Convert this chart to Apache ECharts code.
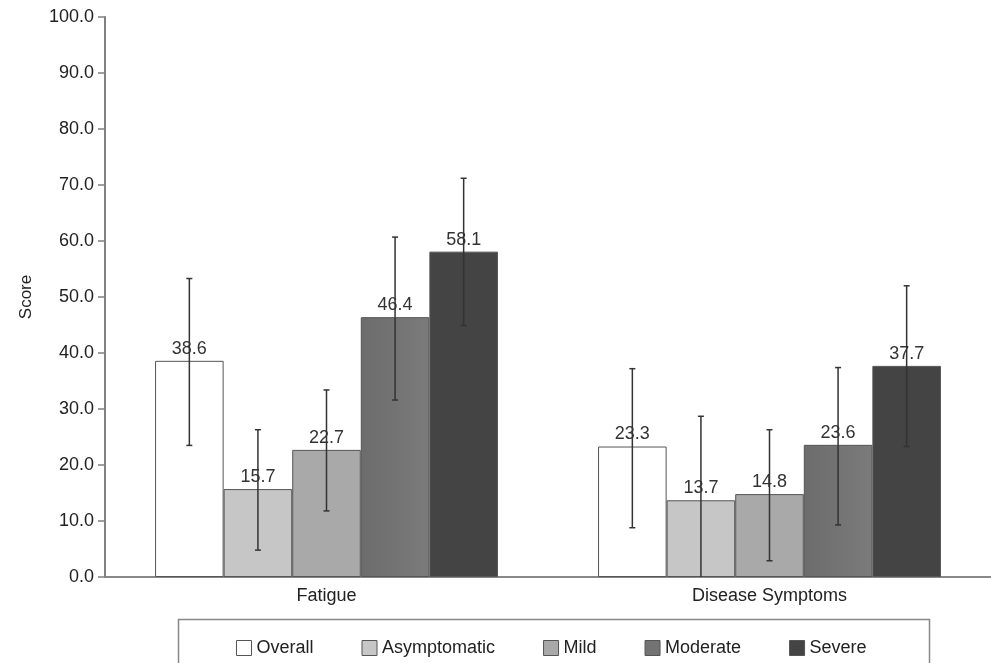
<!DOCTYPE html>
<html>
<head>
<meta charset="utf-8">
<script src="https://cdn.jsdelivr.net/npm/echarts@6/dist/echarts.min.js"></script>
<style>html,body{margin:0;padding:0;background:#fff;}#c{width:991px;height:663px;}</style>
</head>
<body>
<div id="c"></div>
<script>
var categories = ['Fatigue', 'Disease Symptoms'];
var seriesNames = ['Overall', 'Asymptomatic', 'Mild', 'Moderate', 'Severe'];
var overall = [38.6, 23.3];
var asymptomatic = [15.7, 13.7];
var mild = [22.7, 14.8];
var moderate = [46.4, 23.6];
var severe = [58.1, 37.7];
// error bar upper / lower ends
var overallHi = [53.3, 37.2], overallLo = [23.5, 8.8];
var asymptomaticHi = [26.3, 28.7], asymptomaticLo = [4.8, 0];
var mildHi = [33.4, 26.3], mildLo = [11.8, 2.9];
var moderateHi = [60.7, 37.4], moderateLo = [31.6, 9.3];
var severeHi = [71.2, 52.0], severeLo = [44.9, 23.3];
var yTicks = [0, 10, 20, 30, 40, 50, 60, 70, 80, 90, 100];

var values = [overall, asymptomatic, mild, moderate, severe];
var his = [overallHi, asymptomaticHi, mildHi, moderateHi, severeHi];
var los = [overallLo, asymptomaticLo, mildLo, moderateLo, severeLo];
var fills = ['#ffffff', '#c6c6c6', '#a9a9a9',
  {type:'linear',x:0,y:0,x2:1,y2:0,colorStops:[{offset:0,color:'#6c6c6c'},{offset:1,color:'#7b7b7b'}]},
  '#444444'];
var legendColors = ['#ffffff', '#c6c6c6', '#a9a9a9', '#737373', '#444444'];
var CAT_GAP = 0.226;

var chart = echarts.init(document.getElementById('c'), null, {renderer:'canvas'});
var font = 'Liberation Sans, Arial, Helvetica, sans-serif';

var series = [];
seriesNames.forEach(function(n, s){
  series.push({
    name: n, type: 'bar', data: values[s],
    barGap: '0%', barCategoryGap: (CAT_GAP*100)+'%',
    itemStyle: {color: fills[s], borderColor: '#555', borderWidth: 1},
    label: {show: true, position: 'top', distance: 3, fontSize: 18, color: '#333', fontFamily: font,
      formatter: function(p){ return p.value.toFixed(1); }},
    z: 2
  });
});
seriesNames.forEach(function(n, s){
  var data = categories.map(function(c, i){ return [i, his[s][i], los[s][i]]; });
  series.push({
    type: 'custom', name: n + ' error', data: data, z: 5, silent: true,
    renderItem: function(params, api){
      var i = api.value(0);
      var band = api.size([1, 0])[0];
      var group = band * (1 - CAT_GAP);
      var bw = group / 5;
      var c = api.coord([i, 0]);
      var x = c[0] - group/2 + bw*(s + 0.5);
      var yHi = api.coord([i, api.value(1)])[1];
      var yLo = api.coord([i, api.value(2)])[1];
      var st = {stroke: '#333', lineWidth: 1.5};
      var kids = [
        {type:'line', shape:{x1:x,y1:yHi,x2:x,y2:yLo}, style:st},
        {type:'line', shape:{x1:x-3,y1:yHi,x2:x+3,y2:yHi}, style:st}
      ];
      if (api.value(2) > 0) kids.push({type:'line', shape:{x1:x-3,y1:yLo,x2:x+3,y2:yLo}, style:st});
      return {type:'group', children: kids};
    }
  });
});

chart.setOption({
  animation: false,
  backgroundColor: '#fff',
  textStyle: {fontFamily: font},
  grid: {left: 105, right: 0, top: 17, bottom: 86, containLabel: false},
  legend: {
    data: seriesNames.map(function(n, s){ return {name: n, itemStyle: {color: legendColors[s], borderColor: '#555', borderWidth: 1}}; }),
    left: 231, top: 634, itemWidth: 15, itemHeight: 15, itemGap: 48,
    icon: 'rect', textStyle: {fontSize: 18, color: '#222', fontFamily: font}, selectedMode: false
  },
  xAxis: [{
    type: 'category', data: categories,
    axisLine: {lineStyle: {color: '#808080', width: 2}},
    axisTick: {show: false},
    axisLabel: {fontSize: 18, color: '#222', margin: 10, fontFamily: font}
  }, {
    type: 'category', data: categories, position: 'top',
    axisLine: {lineStyle: {color: '#888', width: 2}},
    axisTick: {show: false}, axisLabel: {show: false}
  }],
  yAxis: [{
    type: 'value', min: 0, max: 100, interval: 10,
    name: 'Score', nameLocation: 'middle', nameGap: 70, nameRotate: 90,
    nameTextStyle: {fontSize: 17, color: '#222', fontFamily: font},
    axisLine: {show: true, lineStyle: {color: '#808080', width: 2}},
    axisTick: {show: true, length: 7, lineStyle: {color: '#808080', width: 1.5}},
    axisLabel: {fontSize: 18, color: '#222', margin: 11, fontFamily: font,
      formatter: function(v){ return yTicks.indexOf(v) >= 0 ? v.toFixed(1) : ''; }},
    splitLine: {show: false}
  }, {
    type: 'value', min: 0, max: 100, interval: 10, position: 'right',
    axisLine: {show: true, lineStyle: {color: '#e4e4e4', width: 1}},
    axisTick: {show: false}, axisLabel: {show: false}, splitLine: {show: false}
  }],
  graphic: [{
    type: 'rect', left: 176, top: 617, z: -1,
    shape: {width: 751, height: 70},
    style: {fill: 'none', stroke: '#888', lineWidth: 1.5}
  }],
  series: series
});
</script>
</body>
</html>
